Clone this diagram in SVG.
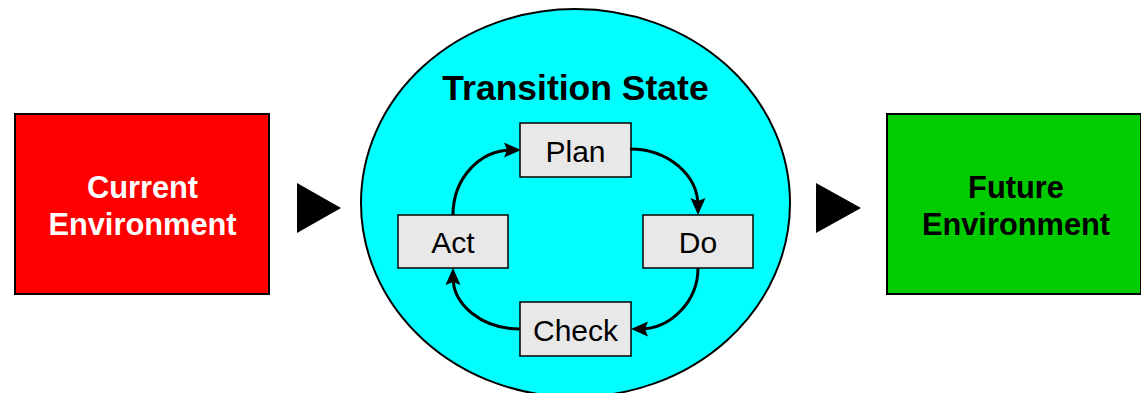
<svg xmlns="http://www.w3.org/2000/svg" width="1141" height="393" viewBox="0 0 1141 393">
<style>
.env{stroke:#000;stroke-width:2}
.envt{font-family:"Liberation Sans",Arial,sans-serif;font-weight:bold;font-size:30.8px;text-anchor:middle}
.step{fill:#E8E8E8;stroke:#000;stroke-width:1.5}
.stept{font-family:"Liberation Sans",Arial,sans-serif;font-size:30px;text-anchor:middle;fill:#000}
.arc{fill:none;stroke:#000;stroke-width:3}
</style>
<defs>
<marker id="ah" markerUnits="userSpaceOnUse" markerWidth="22" markerHeight="20" viewBox="0 -10 22 20" refX="8" refY="0" orient="auto">
<path d="M0,-7.5 L17,0 L0,7.5 L3,0 Z" fill="#000"/>
</marker>
</defs>
<rect width="1141" height="393" fill="#fff"/>
<g id="current">
<rect class="env" x="15" y="114" width="254" height="180" fill="#FF0000"/>
<text class="envt" x="142.5" y="198" fill="#fff">Current</text>
<text class="envt" x="142.5" y="235" fill="#fff">Environment</text>
</g>
<g id="future">
<rect class="env" x="887" y="114" width="254" height="180" fill="#00CC00"/>
<text class="envt" x="1016" y="198" fill="#000">Future</text>
<text class="envt" x="1016" y="235" fill="#000">Environment</text>
</g>
<g id="transition">
<ellipse cx="575.5" cy="203" rx="214.5" ry="194" fill="#00FFFF" stroke="#000" stroke-width="2"/>
<text x="575.5" y="100" font-family="'Liberation Sans',Arial,sans-serif" font-weight="bold" font-size="35.5" text-anchor="middle" fill="#000">Transition State</text>
</g>
<g id="plan">
<rect class="step" x="520" y="123" width="111" height="54"/>
<text class="stept" x="575.5" y="162">Plan</text>
</g>
<g id="do">
<rect class="step" x="643" y="215" width="110" height="53"/>
<text class="stept" x="698" y="253">Do</text>
</g>
<g id="check">
<rect class="step" x="520" y="302" width="111" height="54"/>
<text class="stept" x="575.5" y="341">Check</text>
</g>
<g id="act">
<rect class="step" x="398" y="215" width="110" height="53"/>
<text class="stept" x="453" y="253">Act</text>
</g>
<g id="connectors">
<path d="M297,183 L341,208 L297,233 Z" fill="#000"/>
<path d="M816,183 L861,208 L816,233 Z" fill="#000"/>
<path class="arc" d="M630,149 C668,149 698,175 698,206" marker-end="url(#ah)"/>
<path class="arc" d="M698,268 C698,302 670,329 640,329" marker-end="url(#ah)"/>
<path class="arc" d="M520,329 C482,329 453,305 453,277" marker-end="url(#ah)"/>
<path class="arc" d="M453,215 C453,178 480,150 512,150" marker-end="url(#ah)"/>
</g>
</svg>
